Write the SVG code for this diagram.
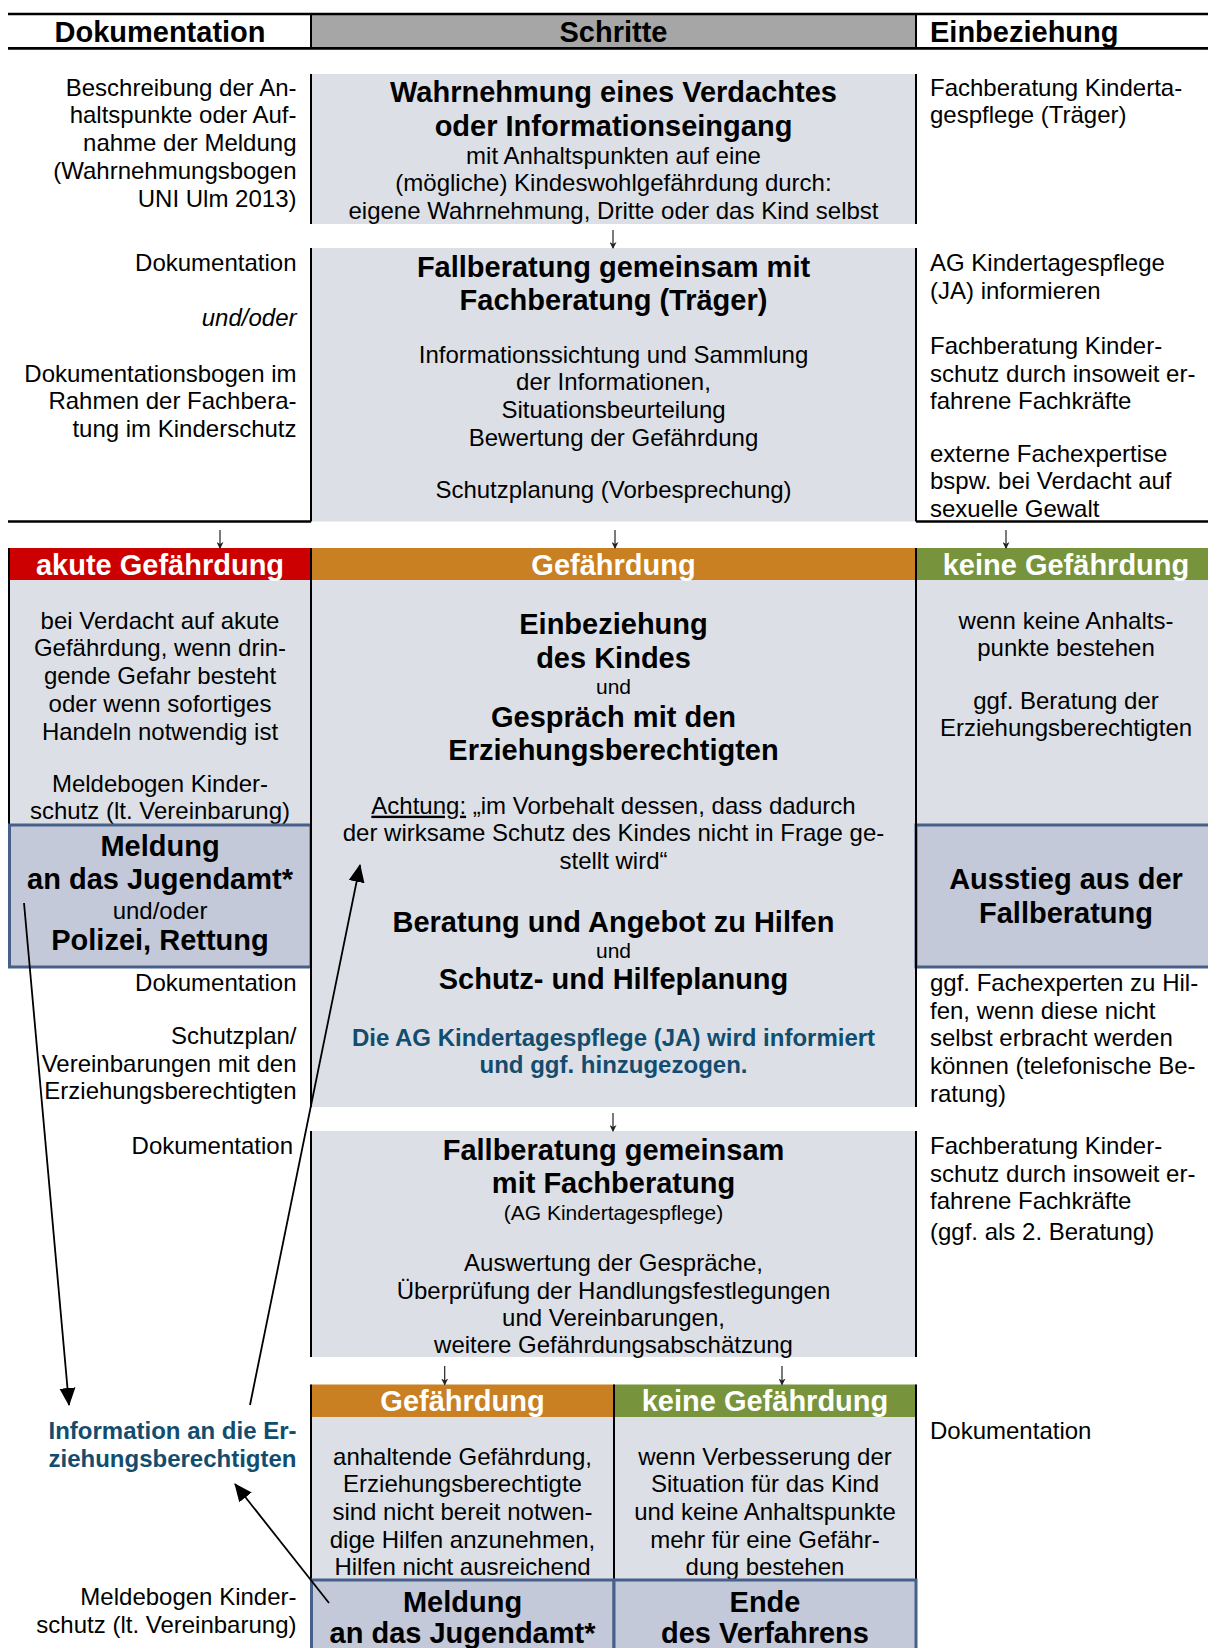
<svg xmlns="http://www.w3.org/2000/svg" width="1208" height="1648" viewBox="0 0 1208 1648">
  <style>
    text { font-family: "Liberation Sans", Arial, sans-serif; fill: #000; }
    .t { font-size: 24px; }
    .s { font-size: 21px; }
    .b { font-size: 29px; font-weight: bold; }
    .w { font-size: 29px; font-weight: bold; fill: #fff; }
    .bl { font-size: 24px; font-weight: bold; fill: #124C6E; }
    .it { font-size: 24px; font-style: italic; }
    .end { text-anchor: end; }
    .mid { text-anchor: middle; }
    .cell { fill: #DCE0E6; }
    .box { fill: #C3C9D8; stroke: #46608A; stroke-width: 3; }
    .rule { stroke: #000; stroke-width: 2; fill: none; }
    .heavy { stroke: #000; stroke-width: 2.6; fill: none; }
    .conn { stroke: #000; stroke-width: 1.8; fill: none; marker-end: url(#head); }
    .tick { stroke: #222; stroke-width: 1.2; fill: none; marker-end: url(#smallhead); }
  </style>
  <defs>
    <marker id="head" markerUnits="userSpaceOnUse" markerWidth="18" markerHeight="18" viewBox="0 0 18 16" refX="17" refY="8" orient="auto">
      <path d="M0,0 L18,8 L0,16 z" fill="#000"/>
    </marker>
    <marker id="smallhead" markerUnits="userSpaceOnUse" markerWidth="7" markerHeight="7" viewBox="0 0 7 7" refX="6" refY="3.5" orient="auto">
      <path d="M0,0 L7,3.5 L0,7 L2,3.5 z" fill="#222"/>
    </marker>
  </defs>

  <rect width="1208" height="1648" fill="#fff"/>

  <!-- column headings -->
  <g id="header">
    <rect x="311" y="14" width="605" height="34" fill="#A6A6A6"/>
    <line class="heavy" x1="8" y1="14" x2="1208" y2="14"/>
    <line class="heavy" x1="8" y1="48.4" x2="1208" y2="48.4"/>
    <line class="rule" x1="311" y1="14" x2="311" y2="48"/>
    <line class="rule" x1="916" y1="14" x2="916" y2="48"/>
    <text class="b mid" x="160" y="42">Dokumentation</text>
    <text class="b mid" x="613.5" y="42">Schritte</text>
    <text class="b" x="930" y="42">Einbeziehung</text>
  </g>

  <!-- step 1 -->
  <g id="wahrnehmung">
    <rect class="cell" x="311" y="74" width="605" height="150"/>
    <line class="rule" x1="311" y1="74" x2="311" y2="224"/>
    <line class="rule" x1="916" y1="74" x2="916" y2="224"/>
    <text class="b mid" x="613.5" y="102">Wahrnehmung eines Verdachtes</text>
    <text class="b mid" x="613.5" y="135.5">oder Informationseingang</text>
    <text class="t mid" x="613.5" y="163.5">mit Anhaltspunkten auf eine</text>
    <text class="t mid" x="613.5" y="191.2">(mögliche) Kindeswohlgefährdung durch:</text>
    <text class="t mid" x="613.5" y="218.9">eigene Wahrnehmung, Dritte oder das Kind selbst</text>
  </g>
  <g id="doc-1">
    <text class="t end" x="296.5" y="95.7">Beschreibung der An-</text>
    <text class="t end" x="296.5" y="123.4">haltspunkte oder Auf-</text>
    <text class="t end" x="296.5" y="151.1">nahme der Meldung</text>
    <text class="t end" x="296.5" y="178.8">(Wahrnehmungsbogen</text>
    <text class="t end" x="296.5" y="206.5">UNI Ulm 2013)</text>
  </g>
  <g id="einb-1">
    <text class="t" x="930" y="95.7">Fachberatung Kinderta-</text>
    <text class="t" x="930" y="123.4">gespflege (Träger)</text>
  </g>

  <!-- step 2 -->
  <g id="fallberatung-1">
    <rect class="cell" x="311" y="248" width="605" height="273.5"/>
    <line class="rule" x1="311" y1="248" x2="311" y2="521.5"/>
    <line class="rule" x1="916" y1="248" x2="916" y2="521.5"/>
    <line class="heavy" x1="8" y1="521.5" x2="311" y2="521.5"/>
    <line class="heavy" x1="916" y1="521.5" x2="1208" y2="521.5"/>
    <text class="b mid" x="613.5" y="276.5">Fallberatung gemeinsam mit</text>
    <text class="b mid" x="613.5" y="310">Fachberatung (Träger)</text>
    <text class="t mid" x="613.5" y="362.7">Informationssichtung und Sammlung</text>
    <text class="t mid" x="613.5" y="390.4">der Informationen,</text>
    <text class="t mid" x="613.5" y="418.1">Situationsbeurteilung</text>
    <text class="t mid" x="613.5" y="445.8">Bewertung der Gefährdung</text>
    <text class="t mid" x="613.5" y="498.3">Schutzplanung (Vorbesprechung)</text>
  </g>
  <g id="doc-2">
    <text class="t end" x="296.5" y="271">Dokumentation</text>
    <text class="it end" x="296.5" y="326">und/oder</text>
    <text class="t end" x="296.5" y="381.6">Dokumentationsbogen im</text>
    <text class="t end" x="296.5" y="409.3">Rahmen der Fachbera-</text>
    <text class="t end" x="296.5" y="437">tung im Kinderschutz</text>
  </g>
  <g id="einb-2">
    <text class="t" x="930" y="271">AG Kindertagespflege</text>
    <text class="t" x="930" y="298.7">(JA) informieren</text>
    <text class="t" x="930" y="354">Fachberatung Kinder-</text>
    <text class="t" x="930" y="381.7">schutz durch insoweit er-</text>
    <text class="t" x="930" y="409.4">fahrene Fachkräfte</text>
    <text class="t" x="930" y="461.5">externe Fachexpertise</text>
    <text class="t" x="930" y="489.2">bspw. bei Verdacht auf</text>
    <text class="t" x="930" y="516.9">sexuelle Gewalt</text>
  </g>

  <!-- three outcomes -->
  <g id="akute-gefaehrdung">
    <rect x="8" y="548" width="303" height="32" fill="#CC0000"/>
    <rect class="cell" x="8" y="580" width="303" height="245"/>
    <line class="rule" x1="9" y1="548" x2="9" y2="825"/>
    <text class="w mid" x="160" y="575">akute Gefährdung</text>
    <text class="t mid" x="160" y="628.7">bei Verdacht auf akute</text>
    <text class="t mid" x="160" y="656.4">Gefährdung, wenn drin-</text>
    <text class="t mid" x="160" y="684.1">gende Gefahr besteht</text>
    <text class="t mid" x="160" y="711.8">oder wenn sofortiges</text>
    <text class="t mid" x="160" y="739.5">Handeln notwendig ist</text>
    <text class="t mid" x="160" y="791.6">Meldebogen Kinder-</text>
    <text class="t mid" x="160" y="819.3">schutz (lt. Vereinbarung)</text>
  </g>
  <g id="meldung-1">
    <rect class="box" x="9.5" y="825" width="301.5" height="142"/>
    <text class="b mid" x="160" y="856">Meldung</text>
    <text class="b mid" x="160" y="889.4">an das Jugendamt*</text>
    <text class="t mid" x="160" y="918.8">und/oder</text>
    <text class="b mid" x="160" y="950">Polizei, Rettung</text>
  </g>
  <g id="gefaehrdung-1">
    <rect x="311" y="548" width="605" height="32" fill="#C98022"/>
    <rect class="cell" x="311" y="580" width="605" height="527"/>
    <text class="w mid" x="613.5" y="575">Gefährdung</text>
    <text class="b mid" x="613.5" y="634">Einbeziehung</text>
    <text class="b mid" x="613.5" y="667.6">des Kindes</text>
    <text class="s mid" x="613.5" y="694">und</text>
    <text class="b mid" x="613.5" y="726.5">Gespräch mit den</text>
    <text class="b mid" x="613.5" y="760">Erziehungsberechtigten</text>
    <text class="t mid" x="613.5" y="813.7"><tspan text-decoration="underline">Achtung:</tspan> „im Vorbehalt dessen, dass dadurch</text>
    <text class="t mid" x="613.5" y="841.4">der wirksame Schutz des Kindes nicht in Frage ge-</text>
    <text class="t mid" x="613.5" y="869.1">stellt wird“</text>
    <text class="b mid" x="613.5" y="931.5">Beratung und Angebot zu Hilfen</text>
    <text class="s mid" x="613.5" y="957.7">und</text>
    <text class="b mid" x="613.5" y="989.3">Schutz- und Hilfeplanung</text>
    <text class="bl mid" x="613.5" y="1046">Die AG Kindertagespflege (JA) wird informiert</text>
    <text class="bl mid" x="613.5" y="1073.4">und ggf. hinzugezogen.</text>
  </g>
  <g id="keine-gefaehrdung-1">
    <rect x="916" y="548" width="292" height="32" fill="#77933C"/>
    <rect class="cell" x="916" y="580" width="292" height="245"/>
    <text class="w mid" x="1066" y="575">keine Gefährdung</text>
    <text class="t mid" x="1066" y="628.7">wenn keine Anhalts-</text>
    <text class="t mid" x="1066" y="656.4">punkte bestehen</text>
    <text class="t mid" x="1066" y="708.6">ggf. Beratung der</text>
    <text class="t mid" x="1066" y="736.3">Erziehungsberechtigten</text>
  </g>
  <g id="ausstieg">
    <rect class="box" x="916" y="825" width="300" height="142"/>
    <text class="b mid" x="1066" y="889.4">Ausstieg aus der</text>
    <text class="b mid" x="1066" y="923">Fallberatung</text>
  </g>
  <g id="rules-3">
    <line class="rule" x1="311" y1="548" x2="311" y2="1107"/>
    <line class="rule" x1="916" y1="548" x2="916" y2="1107"/>
  </g>
  <g id="doc-3">
    <text class="t end" x="296.5" y="991.4">Dokumentation</text>
    <text class="t end" x="296.5" y="1044">Schutzplan/</text>
    <text class="t end" x="296.5" y="1071.7">Vereinbarungen mit den</text>
    <text class="t end" x="296.5" y="1099.4">Erziehungsberechtigten</text>
    <text class="t end" x="293" y="1154">Dokumentation</text>
  </g>
  <g id="einb-3">
    <text class="t" x="930" y="991">ggf. Fachexperten zu Hil-</text>
    <text class="t" x="930" y="1018.7">fen, wenn diese nicht</text>
    <text class="t" x="930" y="1046.4">selbst erbracht werden</text>
    <text class="t" x="930" y="1074.1">können (telefonische Be-</text>
    <text class="t" x="930" y="1101.8">ratung)</text>
  </g>

  <!-- step 4 -->
  <g id="fallberatung-2">
    <rect class="cell" x="311" y="1131" width="605" height="226"/>
    <line class="rule" x1="311" y1="1131" x2="311" y2="1357"/>
    <line class="rule" x1="916" y1="1131" x2="916" y2="1357"/>
    <text class="b mid" x="613.5" y="1159.6">Fallberatung gemeinsam</text>
    <text class="b mid" x="613.5" y="1193.2">mit Fachberatung</text>
    <text class="s mid" x="613.5" y="1219.5">(AG Kindertagespflege)</text>
    <text class="t mid" x="613.5" y="1271">Auswertung der Gespräche,</text>
    <text class="t mid" x="613.5" y="1298.7">Überprüfung der Handlungsfestlegungen</text>
    <text class="t mid" x="613.5" y="1326.4">und Vereinbarungen,</text>
    <text class="t mid" x="613.5" y="1353">weitere Gefährdungsabschätzung</text>
  </g>
  <g id="einb-4">
    <text class="t" x="930" y="1154">Fachberatung Kinder-</text>
    <text class="t" x="930" y="1181.7">schutz durch insoweit er-</text>
    <text class="t" x="930" y="1209.4">fahrene Fachkräfte</text>
    <text class="t" x="930" y="1239.5">(ggf. als 2. Beratung)</text>
  </g>

  <!-- final outcomes -->
  <g id="gefaehrdung-2">
    <rect x="311" y="1384.5" width="303" height="32.5" fill="#C98022"/>
    <rect class="cell" x="311" y="1417" width="303" height="163"/>
    <text class="w mid" x="462.5" y="1411">Gefährdung</text>
    <text class="t mid" x="462.5" y="1464.5">anhaltende Gefährdung,</text>
    <text class="t mid" x="462.5" y="1492.2">Erziehungsberechtigte</text>
    <text class="t mid" x="462.5" y="1519.9">sind nicht bereit notwen-</text>
    <text class="t mid" x="462.5" y="1547.6">dige Hilfen anzunehmen,</text>
    <text class="t mid" x="462.5" y="1575.3">Hilfen nicht ausreichend</text>
  </g>
  <g id="keine-gefaehrdung-2">
    <rect x="614" y="1384.5" width="302" height="32.5" fill="#77933C"/>
    <rect class="cell" x="614" y="1417" width="302" height="163"/>
    <text class="w mid" x="765" y="1411">keine Gefährdung</text>
    <text class="t mid" x="765" y="1464.5">wenn Verbesserung der</text>
    <text class="t mid" x="765" y="1492.2">Situation für das Kind</text>
    <text class="t mid" x="765" y="1519.9">und keine Anhaltspunkte</text>
    <text class="t mid" x="765" y="1547.6">mehr für eine Gefähr-</text>
    <text class="t mid" x="765" y="1575.3">dung bestehen</text>
  </g>
  <g id="rules-5">
    <line class="rule" x1="311" y1="1384.5" x2="311" y2="1580"/>
    <line class="rule" x1="614" y1="1384.5" x2="614" y2="1580"/>
    <line class="rule" x1="916" y1="1384.5" x2="916" y2="1580"/>
  </g>
  <g id="meldung-2">
    <rect class="box" x="311.5" y="1580" width="302.5" height="90"/>
    <text class="b mid" x="462.5" y="1611.6">Meldung</text>
    <text class="b mid" x="462.5" y="1643">an das Jugendamt*</text>
  </g>
  <g id="ende">
    <rect class="box" x="614" y="1580" width="302" height="90"/>
    <text class="b mid" x="765" y="1611.6">Ende</text>
    <text class="b mid" x="765" y="1643">des Verfahrens</text>
  </g>
  <g id="information">
    <text class="bl end" x="296.5" y="1439">Information an die Er-</text>
    <text class="bl end" x="296.5" y="1467">ziehungsberechtigten</text>
  </g>
  <g id="doc-5">
    <text class="t end" x="296.5" y="1605">Meldebogen Kinder-</text>
    <text class="t end" x="296.5" y="1632.7">schutz (lt. Vereinbarung)</text>
  </g>
  <g id="einb-5">
    <text class="t" x="930" y="1439">Dokumentation</text>
  </g>

  <!-- flow arrows -->
  <g id="connectors">
    <path class="tick" d="M613,230 V248"/>
    <path class="tick" d="M220,530 V548"/>
    <path class="tick" d="M615,530 V548"/>
    <path class="tick" d="M1006,530 V548"/>
    <path class="tick" d="M613,1113 V1131"/>
    <path class="tick" d="M444.7,1366 V1384.5"/>
    <path class="tick" d="M782,1366 V1384.5"/>
    <path class="conn" d="M24,903 L69,1405"/>
    <path class="conn" d="M250,1405 L360,865"/>
    <path class="conn" d="M329,1603 L235,1484"/>
  </g>
</svg>
